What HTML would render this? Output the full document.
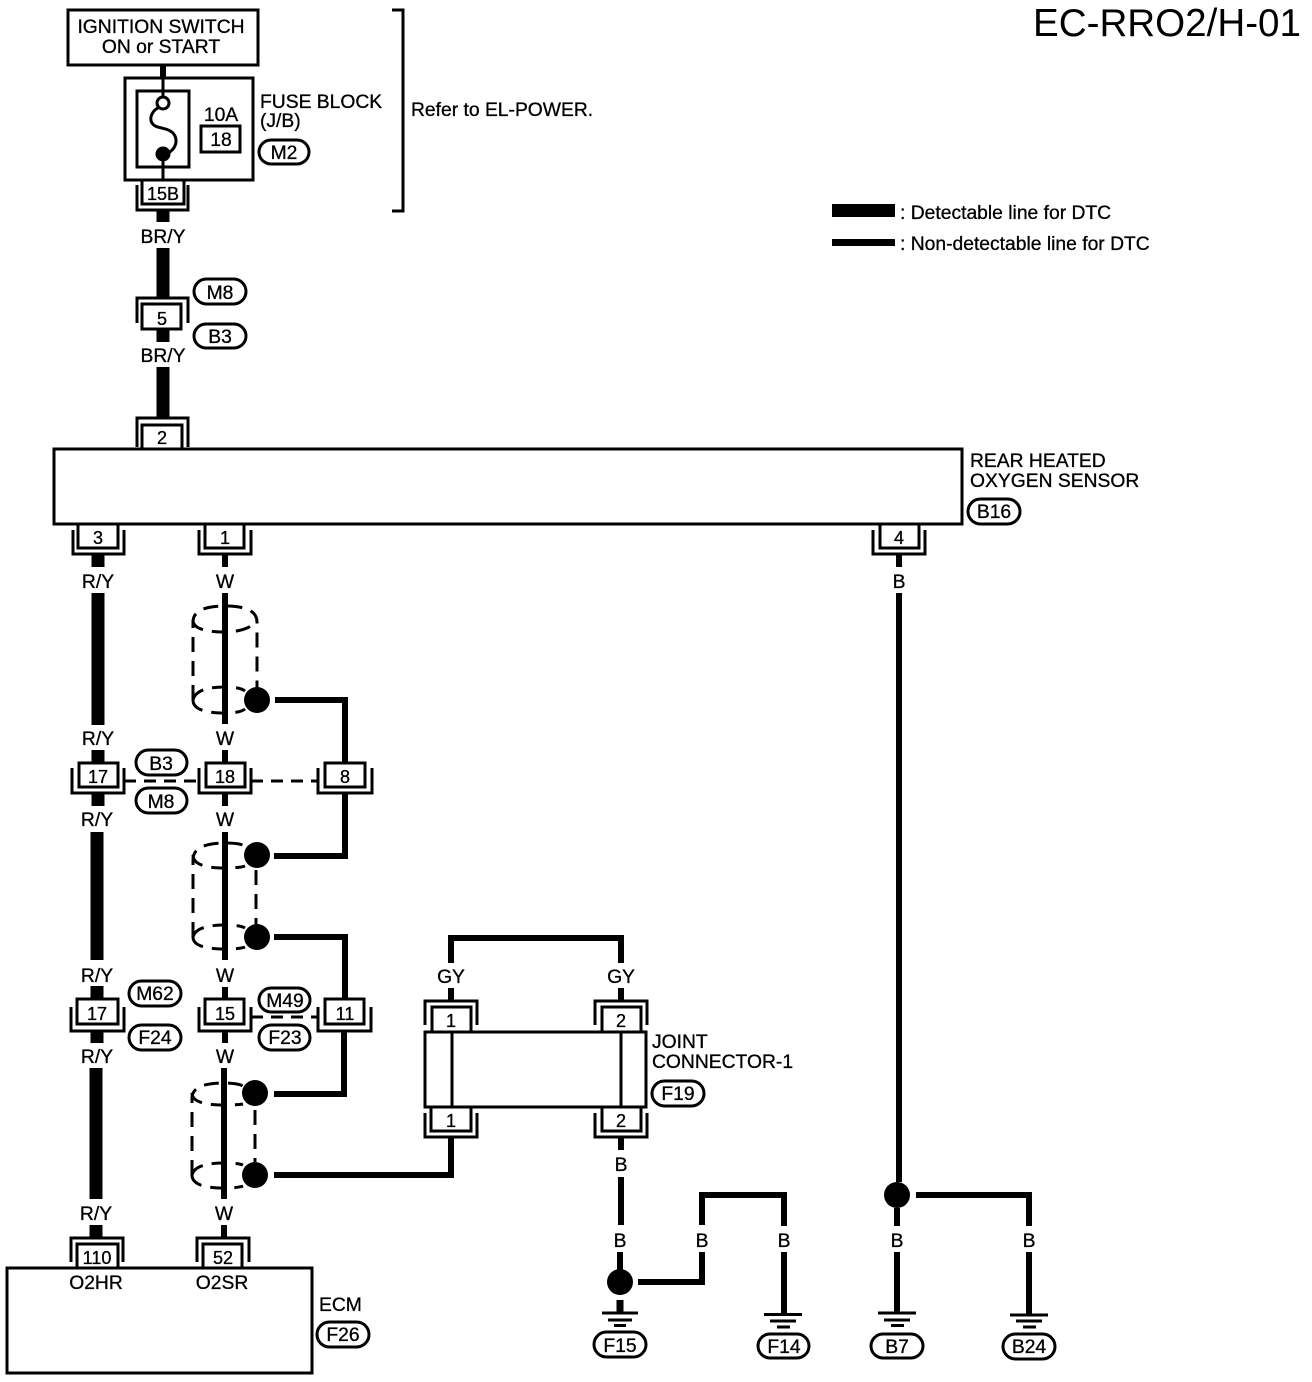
<!DOCTYPE html>
<html><head><meta charset="utf-8"><style>
html,body{margin:0;padding:0;background:#fff}
svg{display:block}
text{font-family:"Liberation Sans",sans-serif;font-size:19.3px;fill:#000;stroke:#000;stroke-width:.3px}
.m{text-anchor:middle}
.t{font-size:38.600px;stroke-width:0}
.n{font-size:18px;text-anchor:middle}
.f{fill:none;stroke:#000}
.b{fill:#fff;stroke:#000;stroke-width:3}
.o{fill:#fff;stroke:#000;stroke-width:3}
.d{fill:none;stroke:#000;stroke-width:3;stroke-dasharray:15 9}
</style></head><body>
<svg width="1312" height="1382" viewBox="0 0 1312 1382" xmlns="http://www.w3.org/2000/svg">
<rect width="1312" height="1382" fill="#fff"/>
<text class="t" x="1033" y="36">EC-RRO2/H-01</text>

<!-- wires: thick -->
<g class="f" stroke-width="13">
<path d="M163 211V222M163 248V297M163 329V342M163 367V417"/>
<path d="M98 555V567M98 593V725M98 750V763M98 793V806M97 832V960M97 986V999M97 1031V1043M96 1068V1199M96 1225V1237"/>
<path d="M832 210.500H895"/>
</g>
<!-- wires: thin -->
<g class="f" stroke-width="6">
<path d="M163 65V78M225 555V567M225 593V724M225 750V763M225 793V806M225 832V960M225 987V999M225 1031V1043M224 1068V1199M224 1225V1237"/>
<path d="M275 700H345V763M345 793V856H274M274 937H345V999M344 1031V1094H274M274 1175H451V1138"/>
<path d="M451 963V938H621V963M451 988V1000M621 988V1000M621 1138V1150M621 1177V1225M620 1252V1270"/>
<path d="M638 1282H702V1252M702 1225V1195H784V1226M784 1252V1313M899 555V567M899 593V1182M897 1208V1226M897 1252V1313M916 1195H1029V1226M1029 1252V1315"/>
<path d="M620 1300V1313" stroke-width="7"/>
<path d="M832 242.500H895" stroke-width="7"/>
</g>

<!-- Ignition and fuse -->
<rect class="b" x="68" y="10" width="190" height="55"/>
<text class="m" x="161" y="33">IGNITION SWITCH</text>
<text class="m" x="161" y="53">ON or START</text>
<rect class="b" x="125" y="78" width="128" height="102"/>
<rect class="b" x="137" y="91" width="52" height="76"/>
<path class="f" stroke-width="3" d="M163 78V97M163 154V180M160 107C152 110 149 118 152 123C156 130 170 126 175 136C178 143 174 150 168 153"/>
<circle cx="163" cy="103" r="6" fill="#fff" stroke="#000" stroke-width="3"/>
<circle cx="163" cy="154" r="7.500" fill="#000"/>
<text class="m" x="221" y="121">10A</text>
<rect class="b" x="201" y="126" width="39" height="26"/>
<text class="m" x="221" y="146">18</text>
<text x="260" y="108">FUSE BLOCK</text>
<text x="260" y="127">(J/B)</text>
<rect class="o" x="259" y="140" width="50" height="24" rx="12"/><text class="m" x="284" y="159">M2</text>
<path class="f" stroke-width="3" d="M392 10H403V211H392"/>
<text x="411" y="116">Refer to EL-POWER.</text>

<!-- connector 15B -->
<path class="f" stroke-width="3" d="M137 185V210H188V185"/>
<rect class="b" x="142" y="180" width="42" height="24"/><text class="n" x="163" y="200">15B</text>
<text class="m" x="163" y="243">BR/Y</text>
<!-- connector 5 -->
<path class="f" stroke-width="3" d="M137 323V298H188V323"/>
<rect class="b" x="142" y="304" width="39" height="25"/><text class="n" x="162" y="325">5</text>
<text class="m" x="163" y="362">BR/Y</text>
<rect class="o" x="194" y="279" width="52" height="25" rx="12.500"/><text class="m" x="220" y="299">M8</text>
<rect class="o" x="194" y="324" width="52" height="24" rx="12"/><text class="m" x="220" y="343">B3</text>
<!-- connector 2 -->
<path class="f" stroke-width="3" d="M137 447V418H188V447"/>
<rect class="b" x="142" y="425" width="40" height="24"/><text class="n" x="162" y="444">2</text>

<!-- legend -->
<text x="900" y="219">: Detectable line for DTC</text>
<text x="900" y="250">: Non-detectable line for DTC</text>

<!-- sensor -->
<rect class="b" x="54" y="449" width="908" height="75"/>
<text x="970" y="467">REAR HEATED</text>
<text x="970" y="487">OXYGEN SENSOR</text>
<rect class="o" x="968" y="499" width="52" height="25" rx="12.500"/><text class="m" x="994" y="518">B16</text>

<!-- connectors under sensor -->
<path class="f" stroke-width="3" d="M73 530V554H124V530M199 530V554H251V530M873 530V554H925V530"/>
<rect class="b" x="78" y="524" width="40" height="24"/><text class="n" x="98" y="544">3</text>
<rect class="b" x="205" y="524" width="39" height="24"/><text class="n" x="225" y="544">1</text>
<rect class="b" x="880" y="524" width="39" height="24"/><text class="n" x="899" y="544">4</text>
<text class="m" x="98" y="588">R/Y</text>
<text class="m" x="225" y="588">W</text>
<text class="m" x="899" y="588">B</text>

<!-- shields -->
<g>
<path class="d" d="M193 700V622Q193 606 225 606Q257 606 257 622V690"/>
<path class="d" d="M193 620Q193 632 225 632Q245 632 257 622" />
<path class="d" d="M193 700Q196 687 225 687Q240 687 245 691M193 700Q193 713 225 713Q240 713 245 709"/>
<path class="d" d="M193 937V860Q193 843 225 843Q240 843 245 846M193 855Q193 868 225 868Q240 868 245 866"/>
<path class="d" d="M193 937Q196 925 225 925Q240 925 245 928M193 937Q193 949 225 949Q240 949 245 947"/>
<path class="d" d="M256 870V925"/>
<path class="d" d="M192 1175V1098Q192 1083 224 1083Q238 1083 243 1086M192 1093Q192 1105 224 1105Q238 1105 243 1104"/>
<path class="d" d="M192 1175Q195 1163 224 1163Q238 1163 243 1165M192 1175Q192 1188 224 1188Q238 1188 243 1186"/>
<path class="d" d="M255 1110V1162"/>
</g>
<circle cx="257" cy="700" r="13" fill="#000"/>
<circle cx="257" cy="855" r="13" fill="#000"/>
<circle cx="257" cy="937" r="13" fill="#000"/>
<circle cx="255" cy="1093" r="13" fill="#000"/>
<circle cx="255" cy="1175" r="13" fill="#000"/>

<!-- row 17/18/8 -->
<text class="m" x="98" y="745">R/Y</text>
<text class="m" x="225" y="745">W</text>
<path class="f" stroke-width="3" d="M72 768V793H124V768M199 768V793H251V768M318 768V793H372V768"/>
<rect class="b" x="79" y="763" width="39" height="24"/><text class="n" x="98" y="783">17</text>
<rect class="b" x="206" y="763" width="39" height="24"/><text class="n" x="225" y="783">18</text>
<rect class="b" x="325" y="763" width="40" height="24"/><text class="n" x="345" y="783">8</text>
<path class="f" stroke-width="3" stroke-dasharray="12 8" d="M124 781H199M251 781H318"/>
<rect class="o" x="136" y="750" width="51" height="25" rx="12.500"/><text class="m" x="161" y="770">B3</text>
<rect class="o" x="136" y="788" width="51" height="25" rx="12.500"/><text class="m" x="161" y="808">M8</text>
<text class="m" x="97" y="826">R/Y</text>
<text class="m" x="225" y="826">W</text>

<!-- row 17/15/11 -->
<text class="m" x="97" y="982">R/Y</text>
<text class="m" x="225" y="982">W</text>
<path class="f" stroke-width="3" d="M71 1007V1031H124V1007M199 1007V1031H251V1007M318 1007V1031H371V1007"/>
<rect class="b" x="77" y="999" width="41" height="25"/><text class="n" x="97" y="1020">17</text>
<rect class="b" x="205" y="999" width="39" height="25"/><text class="n" x="225" y="1020">15</text>
<rect class="b" x="325" y="999" width="39" height="25"/><text class="n" x="345" y="1020">11</text>
<path class="f" stroke-width="3" stroke-dasharray="12 8" d="M251 1017H318"/>
<rect class="o" x="129" y="981" width="52" height="25" rx="12.500"/><text class="m" x="155" y="1000">M62</text>
<rect class="o" x="129" y="1025" width="52" height="25" rx="12.500"/><text class="m" x="155" y="1044">F24</text>
<rect class="o" x="259" y="988" width="51" height="24" rx="12"/><text class="m" x="285" y="1007">M49</text>
<rect class="o" x="259" y="1025" width="51" height="25" rx="12.500"/><text class="m" x="285" y="1044">F23</text>
<text class="m" x="97" y="1063">R/Y</text>
<text class="m" x="225" y="1063">W</text>

<!-- joint connector -->
<text class="m" x="451" y="983">GY</text>
<text class="m" x="621" y="983">GY</text>
<path class="f" stroke-width="3" d="M425 1025V1001H477V1025M595 1025V1001H647V1025"/>
<rect class="b" x="432" y="1007" width="39" height="25"/><text class="n" x="451" y="1027">1</text>
<rect class="b" x="602" y="1007" width="39" height="25"/><text class="n" x="621" y="1027">2</text>
<rect class="b" x="425" y="1032" width="221" height="75"/>
<path class="f" stroke-width="3" d="M452 1032V1107M621 1032V1107"/>
<path class="f" stroke-width="3" d="M425 1113V1137H477V1113M595 1113V1137H647V1113"/>
<rect class="b" x="431" y="1107" width="40" height="24"/><text class="n" x="451" y="1127">1</text>
<rect class="b" x="602" y="1107" width="39" height="24"/><text class="n" x="621" y="1127">2</text>
<text x="652" y="1048">JOINT</text>
<text x="652" y="1068">CONNECTOR-1</text>
<rect class="o" x="652" y="1081" width="52" height="25" rx="12.500"/><text class="m" x="678" y="1100">F19</text>
<text class="m" x="621" y="1171">B</text>

<!-- ECM -->
<text class="m" x="96" y="1220">R/Y</text>
<text class="m" x="224" y="1220">W</text>
<path class="f" stroke-width="3" d="M71 1262V1238H123V1262M197 1262V1238H249V1262"/>
<rect class="b" x="77" y="1244" width="41" height="24"/><text class="n" x="97" y="1264">110</text>
<rect class="b" x="203" y="1244" width="39" height="24"/><text class="n" x="223" y="1264">52</text>
<rect class="b" x="7" y="1268" width="305" height="105"/>
<text class="m" x="96" y="1289">O2HR</text>
<text class="m" x="222" y="1289">O2SR</text>
<text x="319" y="1311">ECM</text>
<rect class="o" x="317" y="1322" width="52" height="25" rx="12.500"/><text class="m" x="343" y="1341">F26</text>

<!-- grounds -->
<circle cx="620" cy="1282" r="13" fill="#000"/>
<circle cx="897" cy="1195" r="13" fill="#000"/>
<text class="m" x="620" y="1247">B</text>
<text class="m" x="702" y="1247">B</text>
<text class="m" x="784" y="1247">B</text>
<text class="m" x="897" y="1247">B</text>
<text class="m" x="1029" y="1247">B</text>
<g class="f" stroke-width="3">
<path d="M602 1313H638M608 1320H632M614 1325.500H626"/>
<path d="M764 1314.500H802M770 1321H796M777 1327H790"/>
<path d="M878 1313H916M884 1320H910M891 1325.500H904"/>
<path d="M1010 1315H1048M1016 1321H1042M1023 1327H1036"/>
</g>
<rect class="o" x="594" y="1332" width="52" height="25" rx="12.500"/><text class="m" x="620" y="1352">F15</text>
<rect class="o" x="758" y="1334" width="51" height="24" rx="12"/><text class="m" x="784" y="1353">F14</text>
<rect class="o" x="871" y="1334" width="52" height="24" rx="12"/><text class="m" x="897" y="1353">B7</text>
<rect class="o" x="1003" y="1334" width="52" height="25" rx="12.500"/><text class="m" x="1029" y="1353">B24</text>
</svg>
</body></html>
